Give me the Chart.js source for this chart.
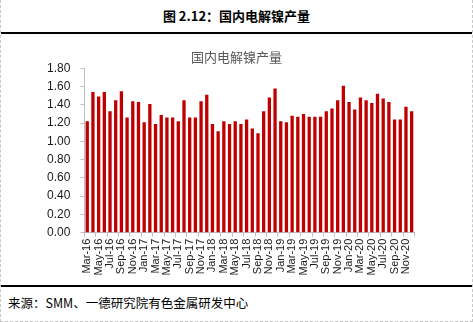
<!DOCTYPE html>
<html>
<head>
<meta charset="utf-8">
<script src="https://cdn.jsdelivr.net/npm/chart.js@4/dist/chart.umd.min.js"></script>
<style>
  html, body { margin: 0; padding: 0; background: #fff; }
  #frame { position: relative; width: 473px; height: 322px; box-sizing: border-box;
           border-left: 1px dashed #c8c8c8; border-right: 1px dashed #c8c8c8; border-bottom: 1px dashed #c8c8c8; overflow: hidden; }
  #head { position: absolute; left: 0; top: 0; width: 471px; height: 32px; border-bottom: 2px solid #000;
          font: bold 13px "Noto Sans CJK SC", sans-serif; color: #000; text-align: center; line-height: 31px; }
  #wrap { position: absolute; left: -1px; top: 34px; width: 473px; height: 251px; }
  #foot { position: absolute; left: 0; top: 285px; width: 471px; height: 36px; border-top: 2px solid #000;
          font: 12.5px "Noto Sans CJK SC", sans-serif; color: #000; line-height: 32px; padding-left: 7px; box-sizing: border-box; }
</style>
</head>
<body>
<div id="frame">
  <div id="head">图 2.12：国内电解镍产量</div>
  <div id="wrap"><canvas id="c"></canvas></div>
  <div id="foot">来源：SMM、一德研究院有色金属研发中心</div>
</div>
<script>
const chartTitle = '国内电解镍产量';
const months = [
  'Mar-16','Apr-16','May-16','Jun-16','Jul-16','Aug-16','Sep-16','Oct-16','Nov-16','Dec-16',
  'Jan-17','Feb-17','Mar-17','Apr-17','May-17','Jun-17','Jul-17','Aug-17','Sep-17','Oct-17','Nov-17','Dec-17',
  'Jan-18','Feb-18','Mar-18','Apr-18','May-18','Jun-18','Jul-18','Aug-18','Sep-18','Oct-18','Nov-18','Dec-18',
  'Jan-19','Feb-19','Mar-19','Apr-19','May-19','Jun-19','Jul-19','Aug-19','Sep-19','Oct-19','Nov-19','Dec-19',
  'Jan-20','Feb-20','Mar-20','Apr-20','May-20','Jun-20','Jul-20','Aug-20','Sep-20','Oct-20','Nov-20','Dec-20'
];
const production = [
  1.22,1.54,1.49,1.54,1.33,1.45,1.55,1.26,1.44,1.43,
  1.21,1.41,1.19,1.29,1.26,1.26,1.22,1.45,1.26,1.26,1.44,1.51,
  1.19,1.11,1.22,1.19,1.22,1.19,1.24,1.14,1.09,1.33,1.48,1.58,
  1.22,1.21,1.28,1.27,1.30,1.27,1.27,1.27,1.33,1.36,1.45,1.61,
  1.43,1.35,1.48,1.45,1.42,1.52,1.47,1.43,1.24,1.24,1.38,1.33
];
const yTicks = [0,0.2,0.4,0.6,0.8,1.0,1.2,1.4,1.6,1.8];

const axisGray = '#bfbfbf';
new Chart(document.getElementById('c'), {
  type: 'bar',
  data: {
    labels: months,
    datasets: [{
      data: production,
      backgroundColor: '#c00000',
      barPercentage: 0.58,
      categoryPercentage: 1.0
    }]
  },
  options: {
    responsive: true,
    maintainAspectRatio: false,
    animation: false,
    layout: { padding: 0 },
    plugins: {
      legend: { display: false },
      tooltip: { enabled: false },
      title: {
        display: true,
        text: chartTitle,
        color: '#595959',
        font: { family: '"Noto Sans CJK SC", sans-serif', size: 13, weight: 'normal' },
        padding: { top: 15.2, bottom: 3.5 }
      }
    },
    scales: {
      x: {
        offset: true,
        grid: {
          offset: true,
          drawOnChartArea: false,
          tickLength: 4,
          color: ctx => (ctx.index === undefined || ctx.index % 2 === 0) ? axisGray : 'rgba(0,0,0,0)'
        },
        border: { color: axisGray },
        ticks: {
          autoSkip: false,
          minRotation: 90,
          maxRotation: 90,
          padding: 2,
          color: '#1a1a1a',
          font: { family: '"Liberation Sans", Arial, sans-serif', size: 11 },
          callback: (v, i) => (i % 2 === 0 ? months[i] : '')
        },
        afterFit: s => { s.height = 52.3; }
      },
      y: {
        min: 0,
        max: 1.8,
        afterBuildTicks: s => { s.ticks = yTicks.map(v => ({ value: v })); },
        grid: { drawOnChartArea: false, tickLength: 4, color: axisGray },
        border: { color: axisGray },
        ticks: {
          padding: 10,
          color: '#1a1a1a',
          font: { family: '"Liberation Sans", Arial, sans-serif', size: 12 },
          callback: v => Number(v).toFixed(2)
        },
        afterFit: s => { s.width = 84.4; }
      },
      spacer: {
        type: 'linear',
        position: 'right',
        display: true,
        grid: { display: false, drawTicks: false },
        border: { display: false },
        ticks: { display: false },
        afterFit: s => { s.width = 58.5; }
      }
    }
  }
});
</script>
</body>
</html>
